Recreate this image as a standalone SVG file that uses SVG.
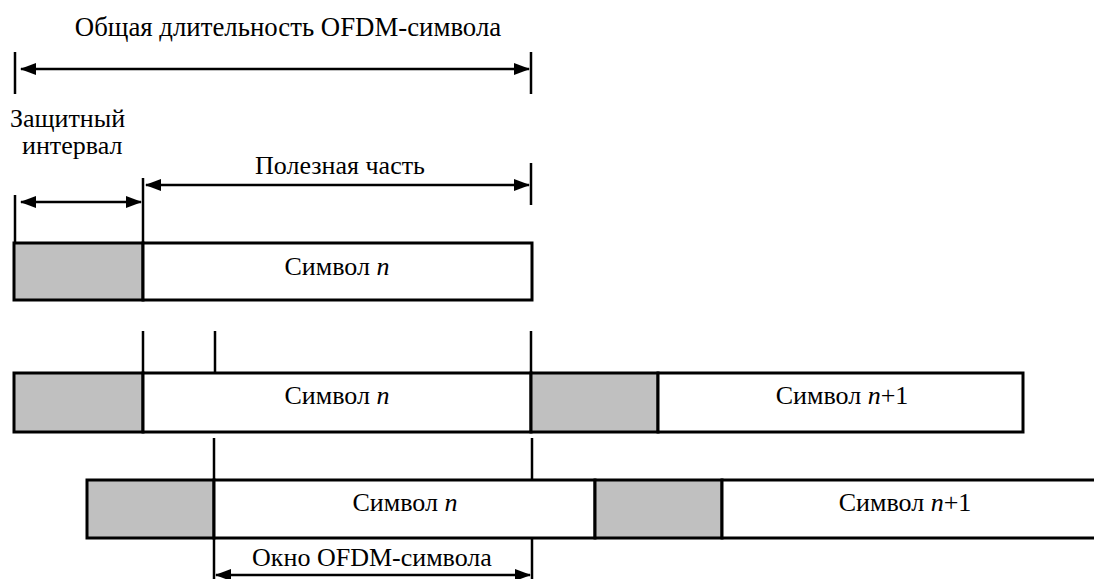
<svg xmlns="http://www.w3.org/2000/svg" width="1094" height="579" viewBox="0 0 1094 579">
<defs>
<style>
text{font-family:'Liberation Serif','DejaVu Serif',serif;font-size:26px;fill:#000}
.c{text-anchor:middle}
.g{fill:#c0c0c0;stroke:#000;stroke-width:3}
.w{fill:#fff;stroke:#000;stroke-width:3}
.t{stroke:#000;stroke-width:2.5;fill:none}
.a{stroke:#000;stroke-width:2.5;fill:none;marker-start:url(#ah);marker-end:url(#ah)}
</style>
<marker id="ah" viewBox="0 0 16 12" refX="15" refY="6" markerWidth="16" markerHeight="12" markerUnits="userSpaceOnUse" orient="auto-start-reverse">
<path d="M0,0 L16,6 L0,12 Z" fill="#000"/>
</marker>
</defs>
<rect width="1094" height="579" fill="#fff"/>

<g id="labels" font-family="Liberation Serif, DejaVu Serif, serif">
<text class="c" x="288" y="36" style="font-size:26.8px">Общая длительность OFDM-символа</text>
<text x="10" y="127">Защитный</text>
<text x="22" y="154">интервал</text>
<text class="c" x="340" y="174">Полезная часть</text>
</g>

<g id="symbol1" font-family="Liberation Serif, DejaVu Serif, serif">
<rect class="g" x="14" y="243" width="129" height="57"/>
<rect class="w" x="143" y="243" width="389" height="57"/>
<text class="c" x="337" y="275">Символ <tspan font-style="italic">n</tspan></text>
</g>

<g id="row2" font-family="Liberation Serif, DejaVu Serif, serif">
<rect class="g" x="14" y="373" width="129" height="59"/>
<rect class="w" x="143" y="373" width="388" height="59"/>
<rect class="g" x="531" y="373" width="127" height="59"/>
<rect class="w" x="658" y="373" width="365" height="59"/>
<text class="c" x="337" y="404">Символ <tspan font-style="italic">n</tspan></text>
<text class="c" x="842" y="404">Символ <tspan font-style="italic">n</tspan>+1</text>
</g>

<g id="row3" font-family="Liberation Serif, DejaVu Serif, serif">
<rect class="g" x="87" y="480" width="127" height="58"/>
<rect class="w" x="214" y="480" width="381" height="58"/>
<rect class="g" x="595" y="480" width="127" height="58"/>
<rect class="w" x="722" y="480" width="380" height="58"/>
<text class="c" x="405" y="511">Символ <tspan font-style="italic">n</tspan></text>
<text class="c" x="905" y="511">Символ <tspan font-style="italic">n</tspan>+1</text>
<text class="c" x="372" y="566">Окно OFDM-символа</text>
</g>

<g id="connectors">
<line class="t" x1="15" y1="52" x2="15" y2="94"/>
<line class="t" x1="531" y1="52" x2="531" y2="94"/>
<line class="a" x1="21" y1="69" x2="529" y2="69"/>
<line class="t" x1="15" y1="195" x2="15" y2="243"/>
<line class="t" x1="143" y1="178" x2="143" y2="243"/>
<line class="t" x1="531" y1="163" x2="531" y2="205"/>
<line class="a" x1="21" y1="202" x2="141" y2="202"/>
<line class="a" x1="146" y1="185" x2="529" y2="185"/>
<line class="t" x1="143" y1="331" x2="143" y2="373"/>
<line class="t" x1="215" y1="331" x2="215" y2="373"/>
<line class="t" x1="531" y1="331" x2="531" y2="373"/>
<line class="t" x1="214" y1="438" x2="214" y2="480"/>
<line class="t" x1="532" y1="438" x2="532" y2="480"/>
<line class="t" x1="214" y1="538" x2="214" y2="579"/>
<line class="t" x1="532" y1="538" x2="532" y2="579"/>
<line class="a" x1="216" y1="575" x2="530" y2="575"/>
</g>
</svg>
